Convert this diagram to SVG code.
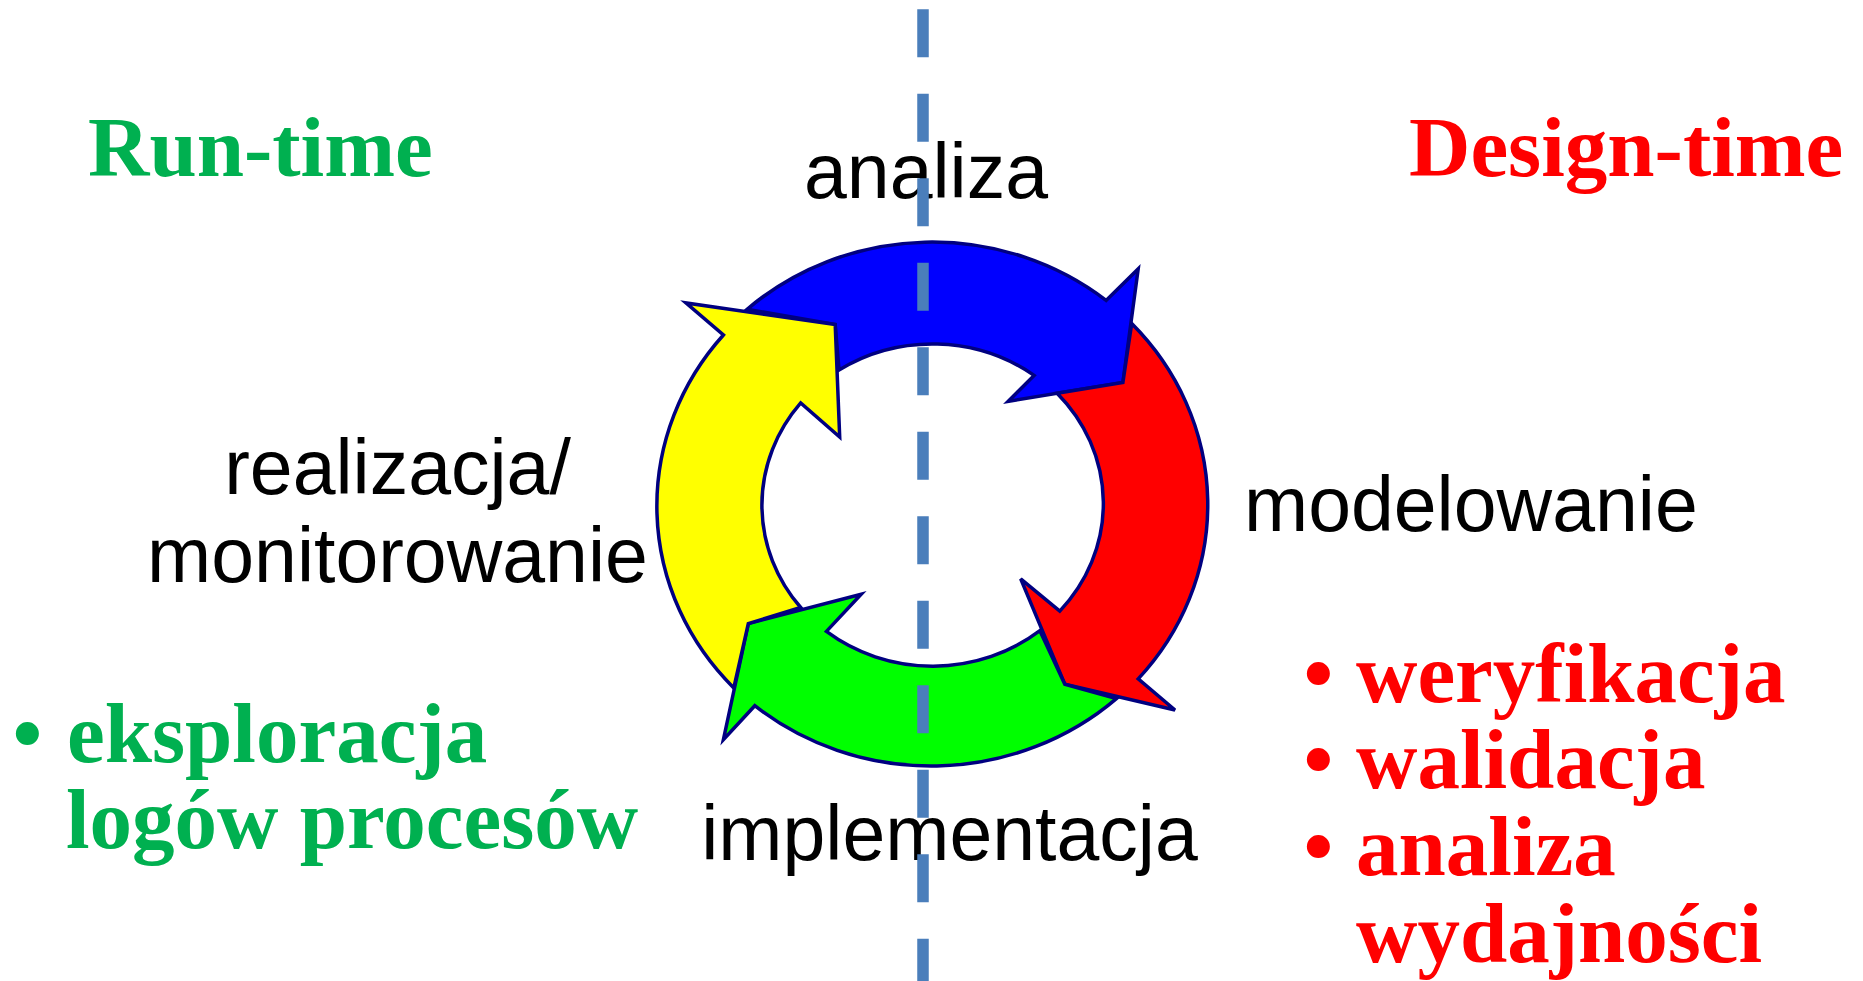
<svg xmlns="http://www.w3.org/2000/svg" width="1863" height="981" viewBox="0 0 1863 981">
<style>
.lbl{font-family:"Liberation Sans",Arial,sans-serif;font-size:77px;fill:#000}
.hd{font-family:"Liberation Serif","Times New Roman",serif;font-weight:bold;font-size:85px}
.g{fill:#00B050}
.r{fill:#FF0000}
.arr{stroke:#000080;stroke-width:3.5;stroke-linejoin:miter}
</style>
<rect width="1863" height="981" fill="#fff"/>
<g id="cycle">
<g id="arrow-analiza"><path class="arr" fill="#0000FF" d="M747.1,309.3 A277,263 0 0 1 1106.1,300.4 L1138.2,268.9 L1122.9,382.5 L1008.1,401.4 L1034.1,375.4 A171.5,161.5 0 0 0 839,370 L835.2,324.6 Z"/></g>
<g id="arrow-modelowanie"><path class="arr" fill="#FF0000" d="M1131.7,323.6 A277,263 0 0 1 1138.2,678.9 L1175,710 L1064.8,684.3 L1020.7,578.9 L1059.8,611.1 A171.5,161.5 0 0 0 1057.1,393.2 L1122.9,382.5 Z"/></g>
<g id="arrow-implementacja"><path class="arr" fill="#00FF00" d="M1116.4,698.6 A277,263 0 0 1 754.8,705.7 L723.4,739.6 L748.3,623.6 L861.2,594.3 L826.4,631.4 A171.5,161.5 0 0 0 1039.9,630.7 L1064.8,684.3 Z"/></g>
<g id="arrow-realizacja"><path class="arr" fill="#FFFF00" d="M733.8,687.9 A277,263 0 0 1 723.4,335 L685.9,302.9 L835.2,324.6 L839.7,437.1 L800.7,402.9 A171.5,161.5 0 0 0 800.7,607.5 L748.3,623.6 Z"/></g>
</g>
<g id="labels">
<text class="lbl" x="926" y="198" text-anchor="middle">analiza</text>
<text class="lbl" x="397.5" y="494" text-anchor="middle">realizacja/</text>
<text class="lbl" x="397.5" y="582" text-anchor="middle">monitorowanie</text>
<text class="lbl" x="1244" y="531">modelowanie</text>
<text class="lbl" x="949.5" y="860" text-anchor="middle">implementacja</text>
</g>
<g id="run-time">
<text class="hd g" x="88" y="176">Run-time</text>
<text class="hd g" x="27.5" y="761.7" text-anchor="middle">•</text>
<text class="hd g" x="67" y="761.7">eksploracja</text>
<text class="hd g" x="66" y="848.3">logów procesów</text>
</g>
<g id="design-time">
<text class="hd r" x="1409" y="176">Design-time</text>
<text class="hd r" x="1318.3" y="701.7" text-anchor="middle">•</text>
<text class="hd r" x="1356" y="701.7">weryfikacja</text>
<text class="hd r" x="1318.3" y="788.3" text-anchor="middle">•</text>
<text class="hd r" x="1356" y="788.3">walidacja</text>
<text class="hd r" x="1318.3" y="875" text-anchor="middle">•</text>
<text class="hd r" x="1356" y="875">analiza</text>
<text class="hd r" x="1356" y="962.3">wydajności</text>
</g>
<g id="connectors">
<line x1="923" y1="9.3" x2="923" y2="981" stroke="#4A7EBB" stroke-width="11.5" stroke-dasharray="48 36.5"/>
</g>
</svg>
